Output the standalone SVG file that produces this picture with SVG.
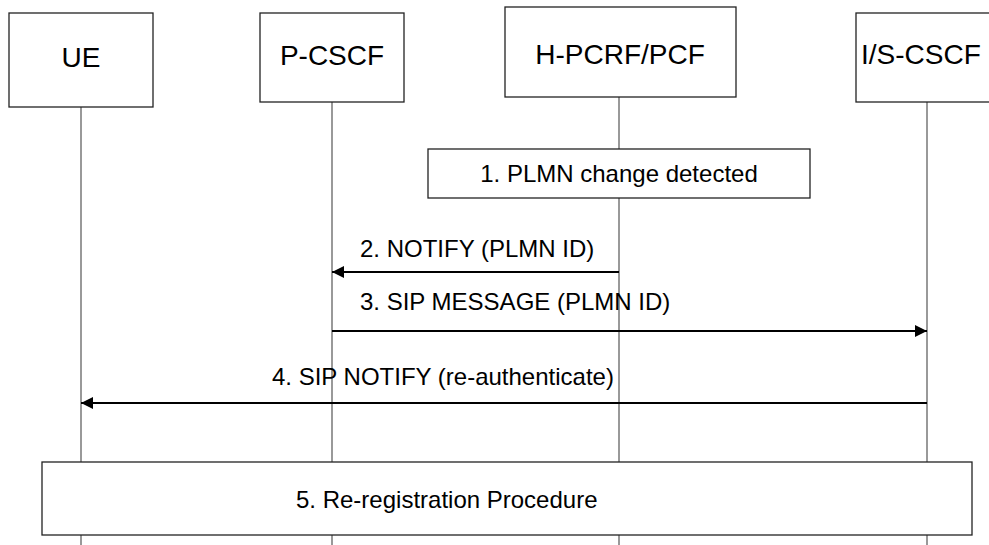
<svg xmlns="http://www.w3.org/2000/svg" width="989" height="545" viewBox="0 0 989 545">
<style>
  .box{fill:#fff;stroke:#222;stroke-width:1.3}
  .life{stroke:#555;stroke-width:1.2;fill:none}
  .msg{stroke:#000;stroke-width:2.2;fill:none}
  .hdr{font-family:"Liberation Sans",Arial,sans-serif;font-size:28px;fill:#000;text-anchor:middle}
  .lbl{font-family:"Liberation Sans",Arial,sans-serif;font-size:24px;fill:#000}
</style>
<defs>
  <marker id="ah" viewBox="0 0 12 12" refX="12" refY="6" markerWidth="12" markerHeight="12" markerUnits="userSpaceOnUse" orient="auto">
    <path d="M0,0 L12,6 L0,12 Z" fill="#000"/>
  </marker>
</defs>
<rect width="989" height="545" fill="#fff"/>
<g id="lifelines">
  <line class="life" x1="81" y1="107" x2="81" y2="545"/>
  <line class="life" x1="332" y1="102" x2="332" y2="545"/>
  <line class="life" x1="619" y1="97" x2="619" y2="545"/>
  <line class="life" x1="927" y1="102" x2="927" y2="545"/>
</g>
<g id="UE">
  <rect class="box" x="9" y="13" width="144" height="94"/>
  <text class="hdr" x="81" y="67">UE</text>
</g>
<g id="P-CSCF">
  <rect class="box" x="260" y="13" width="144" height="89"/>
  <text class="hdr" x="332" y="65">P-CSCF</text>
</g>
<g id="H-PCRF">
  <rect class="box" x="505" y="7" width="231" height="90"/>
  <text class="hdr" x="620" y="64">H-PCRF/PCF</text>
</g>
<g id="IS-CSCF">
  <rect class="box" x="856" y="13" width="146" height="89"/>
  <text class="hdr" x="861" y="64" style="text-anchor:start">I/S-CSCF</text>
</g>
<g id="step1">
  <rect class="box" x="428" y="149" width="382" height="49"/>
  <text class="lbl" x="619" y="182" text-anchor="middle">1. PLMN change detected</text>
</g>
<g id="connectors">
  <line class="msg" x1="619" y1="272" x2="332" y2="272" marker-end="url(#ah)"/>
  <text class="lbl" x="360" y="257">2. NOTIFY (PLMN ID)</text>
  <line class="msg" x1="332" y1="331" x2="927" y2="331" marker-end="url(#ah)"/>
  <text class="lbl" x="360" y="310">3. SIP MESSAGE (PLMN ID)</text>
  <line class="msg" x1="927" y1="403" x2="81" y2="403" marker-end="url(#ah)"/>
  <text class="lbl" x="272" y="385">4. SIP NOTIFY (re-authenticate)</text>
</g>
<g id="step5">
  <rect class="box" x="42" y="462" width="930" height="73"/>
  <text class="lbl" x="296" y="508">5. Re-registration Procedure</text>
</g>
</svg>
